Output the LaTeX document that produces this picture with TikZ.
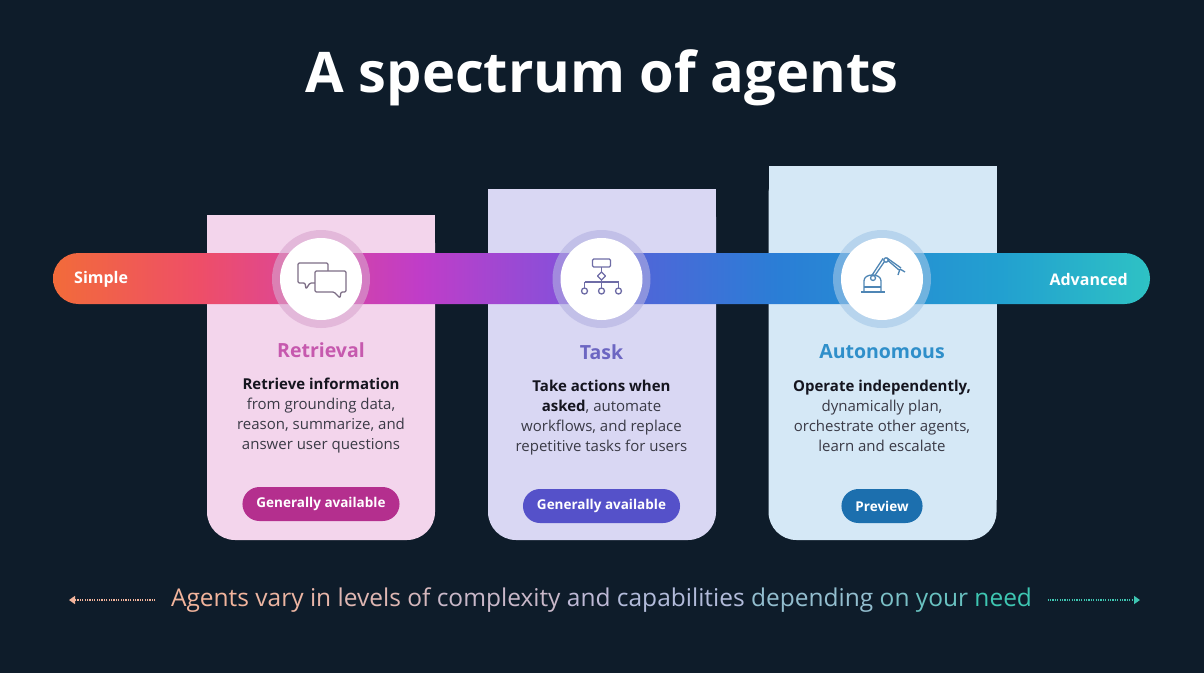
\documentclass[tikz,border=0pt]{standalone}
\usepackage{fontspec}
\setmainfont{Open Sans}
\usetikzlibrary{arrows.meta,positioning,calc}

\definecolor{bgnavy}{HTML}{0E1C2A}
\definecolor{cardA}{HTML}{F3D5EC}
\definecolor{cardB}{HTML}{D9D7F3}
\definecolor{cardC}{HTML}{D5E8F6}
\definecolor{haloA}{HTML}{D9A6CF}
\definecolor{haloB}{HTML}{B4B2E2}
\definecolor{haloC}{HTML}{A3C8E8}
\definecolor{headA}{HTML}{C659AE}
\definecolor{headB}{HTML}{6C66C2}
\definecolor{headC}{HTML}{2F8FCA}
\definecolor{badgeA}{HTML}{B42F8E}
\definecolor{badgeB}{HTML}{5551C9}
\definecolor{badgeC}{HTML}{1C6FAE}
\definecolor{iconA}{HTML}{7D6E86}
\definecolor{iconB}{HTML}{6E6CA6}
\definecolor{iconC}{HTML}{4F86B5}
\definecolor{desctext}{HTML}{3A3A46}
\definecolor{boldtext}{HTML}{15151F}
\definecolor{sp1}{HTML}{F26B3A}
\definecolor{sp2}{HTML}{EE4E68}
\definecolor{sp3}{HTML}{DC4698}
\definecolor{sp4}{HTML}{C03DC8}
\definecolor{sp5}{HTML}{8C4ED8}
\definecolor{sp6}{HTML}{4C68D8}
\definecolor{sp7}{HTML}{2A7ED6}
\definecolor{sp8}{HTML}{22A0D0}
\definecolor{sp9}{HTML}{2EC2C4}
\definecolor{peach}{HTML}{F2B49C}
\definecolor{lilac}{HTML}{B8BADC}
\definecolor{teal}{HTML}{3EC6B2}

\pgfdeclarehorizontalshading{spectrum}{100bp}{color(0bp)=(sp1); color(25bp)=(sp1);
  color(31.7bp)=(sp2); color(36.3bp)=(sp3); color(41.7bp)=(sp4); color(47.7bp)=(sp5);
  color(52.2bp)=(sp6); color(58.1bp)=(sp7); color(68.2bp)=(sp8); color(75bp)=(sp9); color(100bp)=(sp9)}

\newcommand{\warmword}[2]{\textcolor{peach!#1!lilac}{#2}}
\newcommand{\coolword}[2]{\textcolor{teal!#1!lilac}{#2}}

\begin{document}
\begin{tikzpicture}[x=1pt,y=-1pt,every node/.append style={align=center},
  card/.style={rounded corners=28, minimum width=228, inner sep=0, outer sep=0},
  halo/.style={circle, minimum size=98, fill opacity=0.6, inner sep=0},
  hub/.style={circle, fill=white, minimum size=82, inner sep=0},
  head/.style={font=\fontsize{19.5}{22}\selectfont\bfseries},
  desc/.style={font=\fontsize{15}{20}\selectfont, text=desctext, inner sep=0, anchor=north, yshift=-17pt},
  badge/.style={rounded corners=17, minimum height=34, text=white, inner xsep=14,
    font=\fontsize{13.5}{15}\selectfont\bfseries},
  barlabel/.style={text=white, inner sep=0, font=\fontsize{16}{18}\selectfont\bfseries},
  icon/.style={line width=1.3, line join=round, rounded corners=1.2},
  hint/.style={line width=1.5, dash pattern=on 1.2pt off 1.2pt, shorten <=12,
    -{Triangle[width=8,length=6,sep=-1]}}]
  \useasboundingbox[fill=bgnavy] (0,0) rectangle (1204,673);

  \node[text=white, font=\fontsize{56}{64}\selectfont\bfseries] (title) at (602,78) {A spectrum of agents};

  % cards
  \node[card, fill=cardA, minimum height=325] (cA) at (321,377.5) {};
  \node[card, fill=cardB, minimum height=351] (cB) at (602,364.5) {};
  \node[card, fill=cardC, minimum height=374] (cC) at (882.5,353) {};
  \fill[cardA] (cA.north west) rectangle ([yshift=40pt]cA.south east);
  \fill[cardB] (cB.north west) rectangle ([yshift=40pt]cB.south east);
  \fill[cardC] (cC.north west) rectangle ([yshift=40pt]cC.south east);

  % spectrum bar
  \node[shading=spectrum, rounded corners=25.5, minimum width=1097, minimum height=51, inner sep=0] (bar) at (601.5,278.5) {};
  \node[barlabel, anchor=west] (simple) at (74,279) {Simple};
  \node[barlabel, anchor=east] (advanced) at (1128,279) {Advanced};

  \node[halo, fill=haloA] (hA) at (321,279) {};
  \node[halo, fill=haloB] (hB) at (601.5,279) {};
  \node[halo, fill=haloC] (hC) at (882,279) {};
  \node[hub] (hubA) at (hA) {};
  \node[hub] (hubB) at (hB) {};
  \node[hub] (hubC) at (hC) {};

  % chat icon
  \begin{scope}[shift={(hubA)}, icon, draw=iconA]
    \draw (-23,-16) -- (7,-16) -- (7,4) -- (-11,4) -- (-15,10) -- (-16,4) -- (-23,4) -- cycle;
    \filldraw[fill=white] (-6,-8) -- (25,-8) -- (25,13) -- (20,13) -- (19,19) -- (13,13) -- (-6,13) -- cycle;
  \end{scope}
  % workflow icon
  \begin{scope}[shift={(hubB)}, icon, draw=iconB]
    \draw (-9,-20) rectangle (9,-12);
    \draw (0,-12) -- (0,-7) (0,1) -- (0,3) (-17,3) -- (17,3)
          (-17,3) -- (-17,9) (0,3) -- (0,9) (17,3) -- (17,9);
    \draw[sharp corners] (0,-7) -- (4,-3) -- (0,1) -- (-4,-3) -- cycle;
    \foreach \cx in {-17,0,17} \draw (\cx,12) circle (3);
  \end{scope}
  % robot arm icon
  \begin{scope}[shift={(hubC)}, icon, draw=iconC]
    \draw (-21,13) -- (3,13);
    \draw (-18,13) -- (-18,3) .. controls (-18,-6) and (-1,-6) .. (-1,3) -- (-1,13);
    \draw (-18,8) -- (-1,8);
    \draw (-9,-1) circle (2.5) (4,-19) circle (2.2);
    \draw (-7.5,-3) -- (2.5,-17.5) (6,-18.5) -- (17,-9);
    \draw (-10.5,-3) -- (1,-20.5) (5,-21) -- (19,-11);
    \draw (18,-10) -- (16,-4) (18,-10) -- (23,-7);
  \end{scope}

  % card texts
  \node[head, text=headA] (tA) at (321,350) {Retrieval};
  \node[desc] (dA) at (tA.south) {\textbf{\textcolor{boldtext}{Retrieve information}}\\from grounding data,\\reason, summarize, and\\answer user questions};
  \node[badge, fill=badgeA] (bA) at (321,504) {Generally available};

  \node[head, text=headB] (tB) at (601.5,352) {Task};
  \node[desc] (dB) at (tB.south) {\textbf{\textcolor{boldtext}{Take actions when}}\\\textbf{\textcolor{boldtext}{asked}}, automate\\workflows, and replace\\repetitive tasks for users};
  \node[badge, fill=badgeB] (bB) at (601.5,506) {Generally available};

  \node[head, text=headC] (tC) at (882,352) {Autonomous};
  \node[desc] (dC) at (tC.south) {\textbf{\textcolor{boldtext}{Operate independently,}}\\dynamically plan,\\orchestrate other agents,\\learn and escalate};
  \node[badge, fill=badgeC] (bC) at (882,506) {Preview};

  % bottom hint
  \node[font=\fontsize{24.5}{28}\selectfont] (hint) at (601.5,600)
    {\warmword{100}{Agents} \warmword{90}{vary} \warmword{80}{in} \warmword{65}{levels} \warmword{50}{of} \warmword{30}{complexity} \warmword{10}{and}
     \coolword{5}{capabilities} \coolword{30}{depending} \coolword{50}{on} \coolword{65}{your} \coolword{100}{need}};
  \coordinate (lefttip) at (70,600);
  \coordinate (righttip) at (1139,600);
  \draw[hint, peach] (hint.west) -- (lefttip);
  \draw[hint, teal] (hint.east) -- (righttip);
\end{tikzpicture}
\end{document}
